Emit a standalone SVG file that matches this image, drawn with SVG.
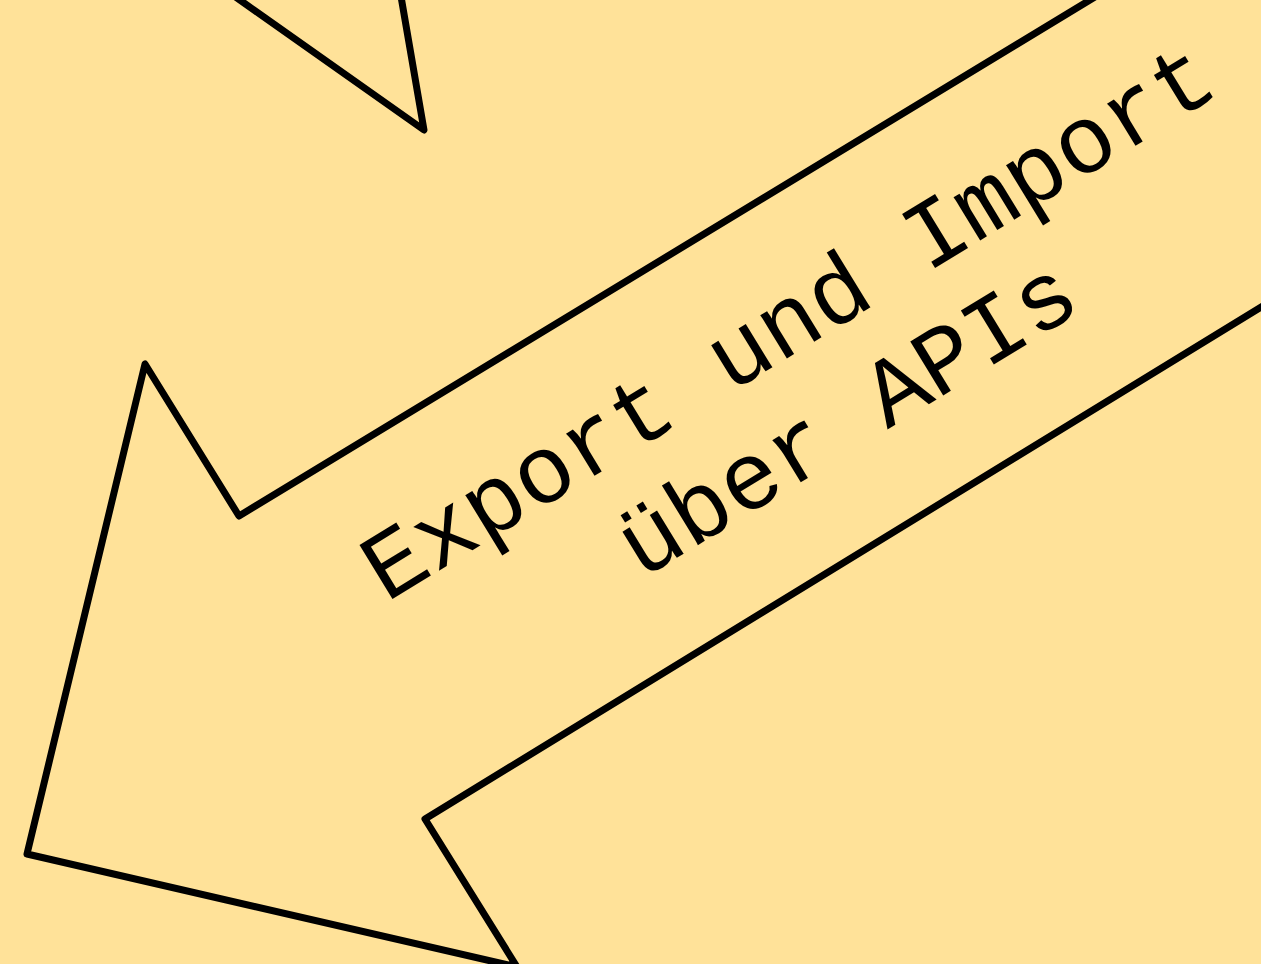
<svg xmlns="http://www.w3.org/2000/svg" width="1261" height="964" viewBox="0 0 1261 964">
<style>
.shape{fill:none;stroke:#000;stroke-width:7;stroke-linejoin:round;stroke-linecap:round}
.lbl{font-family:"Liberation Mono","DejaVu Sans Mono",monospace;font-size:96px;fill:#000;text-anchor:middle}
</style>
<rect width="1261" height="964" fill="#FFE299"/>
<g id="arrow-top">
<polyline class="shape" points="169,-50 424,130 393,-50"/>
</g>
<g id="arrow-main">
<polyline class="shape" points="1400,-188 239,516 145,364 27,854 517,967 425,819 1400,222"/>
<g transform="translate(804,348) rotate(-31.4)">
<text class="lbl" x="0" y="0">Export und Import</text>
<text class="lbl" x="0" y="113">über APIs</text>
</g>
</g>
<g id="connectors"/>
</svg>
